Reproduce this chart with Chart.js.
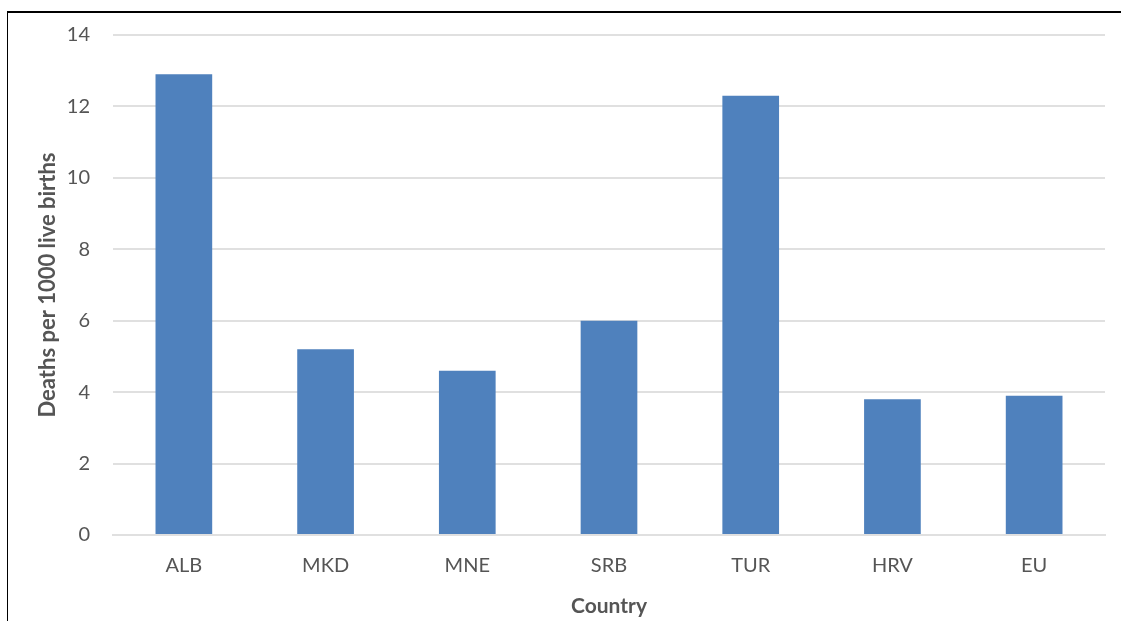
<!DOCTYPE html>
<html>
<head>
<meta charset="utf-8">
<script src="https://cdn.jsdelivr.net/npm/chart.js@4.4.1/dist/chart.umd.min.js"></script>
<style>
  html, body { margin: 0; padding: 0; background: #ffffff; }
  #wrap { position: relative; width: 1121px; height: 621px; overflow: hidden; }
  #frame { position: absolute; left: 7px; top: 11px; right: -10px; bottom: -10px;
           border-left: 1.5px solid #000; border-top: 2px solid #000; pointer-events: none; }
  canvas { position: absolute; left: 0; top: 0; }
</style>
</head>
<body>
<div id="wrap">
  <canvas id="c" width="1121" height="621"></canvas>
  <div id="frame"></div>
</div>
<script>
// Infant mortality by country
const countries = ['ALB', 'MKD', 'MNE', 'SRB', 'TUR', 'HRV', 'EU'];
const deathsPer1000 = [12.9, 5.2, 4.6, 6.0, 12.3, 3.8, 3.9];
const yTicks = [0, 2, 4, 6, 8, 10, 12, 14];

const textGrey = '#555555';
const fontFamily = 'Lato, "Open Sans", "Liberation Sans", sans-serif';

new Chart(document.getElementById('c'), {
  type: 'bar',
  data: {
    labels: countries,
    datasets: [{
      data: deathsPer1000,
      backgroundColor: '#4f81bd',
      borderWidth: 0,
      barPercentage: 0.4,
      categoryPercentage: 1.0
    }]
  },
  options: {
    responsive: false,
    animation: false,
    layout: { padding: { left: 35, top: 35, right: 16, bottom: 2 } },
    plugins: { legend: { display: false }, tooltip: { enabled: false } },
    scales: {
      x: {
        grid: { display: false },
        border: { display: true, color: '#e0e0e0', width: 2 },
        ticks: { color: textGrey, font: { family: fontFamily, size: 20 }, padding: 11 },
        title: { display: true, text: 'Country', color: textGrey,
                 font: { family: fontFamily, size: 21, weight: 'bold' }, padding: 0 },
        afterFit: s => { s.height = 84; }
      },
      y: {
        min: 0, max: 14,
        afterBuildTicks: s => { s.ticks = yTicks.map(v => ({ value: v })); },
        grid: { color: '#e0e0e0', lineWidth: 2, drawTicks: false },
        border: { display: false },
        ticks: { color: textGrey, font: { family: fontFamily, size: 20 }, padding: 23 },
        title: { display: true, text: 'Deaths per 1000 live births', color: textGrey,
                 font: { family: fontFamily, size: 22, weight: 'bold' }, padding: 0 },
        afterFit: s => { s.width = 78; }
      }
    }
  }
});
</script>
</body>
</html>
